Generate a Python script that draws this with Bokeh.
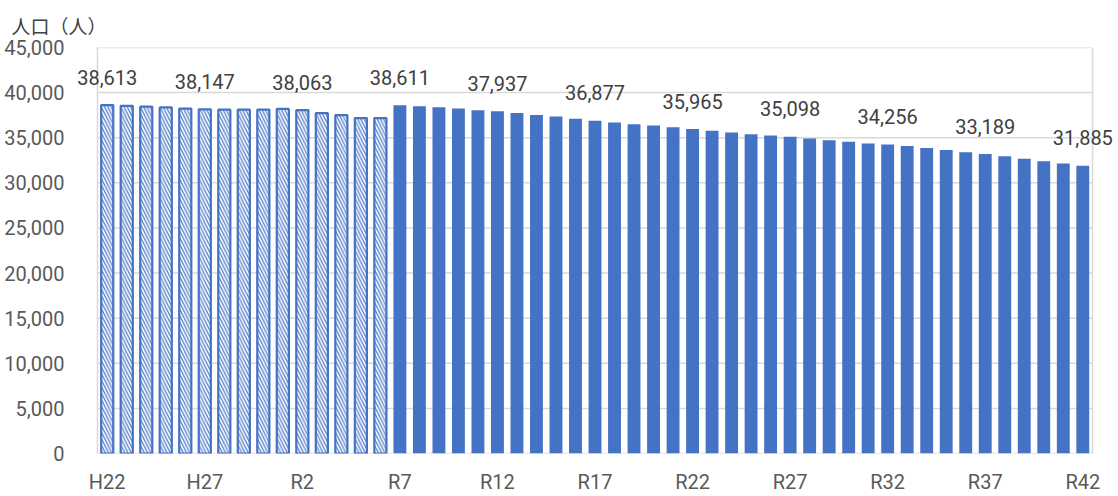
from bokeh.plotting import figure
from bokeh.models import (ColumnDataSource, FixedTicker, NumeralTickFormatter, Range1d)
from bokeh.core.properties import value
from bokeh.embed import file_html
from bokeh.resources import INLINE

# Population by year, H22 (2010) through R42 (2060)
years = ["H22", "H23", "H24", "H25", "H26", "H27", "H28", "H29", "H30", "R1",
         "R2", "R3", "R4", "R5", "R6",
         "R7", "R8", "R9", "R10", "R11", "R12", "R13", "R14", "R15", "R16",
         "R17", "R18", "R19", "R20", "R21", "R22", "R23", "R24", "R25", "R26",
         "R27", "R28", "R29", "R30", "R31", "R32", "R33", "R34", "R35", "R36",
         "R37", "R38", "R39", "R40", "R41", "R42"]

# Actual figures (hatched bars)
actual = [38613, 38530, 38445, 38360, 38230, 38147, 38105, 38105, 38105, 38190,
          38063, 37730, 37500, 37180, 37180]

# Projected figures (solid bars)
projected = [38611, 38500, 38388, 38238, 38052, 37937, 37750, 37530, 37340, 37110,
             36877, 36690, 36500, 36350, 36160, 35965, 35780, 35590, 35396, 35247,
             35098, 34912, 34725, 34540, 34350, 34256, 34070, 33850, 33630, 33400,
             33189, 32960, 32660, 32400, 32140, 31885]

tick_labels = ["H22", "H27", "R2", "R7", "R12", "R17", "R22", "R27", "R32", "R37", "R42"]
y_ticks = [0, 5000, 10000, 15000, 20000, 25000, 30000, 35000, 40000, 45000]

values = actual + projected
n = len(values)
idx = list(range(n))
n_act = len(actual)
x_lo, x_hi = -0.5, n - 0.5
y_top = y_ticks[-1]

src_act = ColumnDataSource(dict(x=idx[:n_act], top=actual))
src_proj = ColumnDataSource(dict(x=idx[n_act:], top=projected))

lab_idx = list(range(0, n, 5))
src_lab = ColumnDataSource(dict(
    x=lab_idx,
    y=[values[i] for i in lab_idx],
    t=[f"{values[i]:,}" for i in lab_idx],
))

BLUE = "#4472C4"
GRID = "#d9d9d9"
NUM_FONT = "Roboto"
JP_FONT = "Noto Sans CJK JP"

# the frame is a little wider than the category band so that value labels
# at the ends are not cut off; the plot-area border is drawn explicitly
p = figure(width=1118, height=496, output_backend="svg", toolbar_location=None,
           x_range=Range1d(x_lo - 1.28, x_hi + 1.33), y_range=Range1d(0, y_top),
           min_border_left=72, min_border_right=0, min_border_top=45,
           min_border_bottom=43)
p.background_fill_color = "white"
p.border_fill_color = "white"
p.outline_line_color = None

p.title.text = "人口（人）"
p.title.text_font = JP_FONT
p.title.text_font_size = "19px"
p.title.text_font_style = "normal"
p.title.text_color = "#404040"
p.title.align = "left"
p.title.offset = -61
p.title.standoff = 18
p.title.text_line_height = 0.9

# gridlines and plot-area border
p.segment(x0=x_lo, x1=x_hi, y0=y_ticks, y1=y_ticks, line_color=GRID, line_width=1.5)
p.segment(x0=[x_lo, x_hi], x1=[x_lo, x_hi], y0=0, y1=y_top, line_color=GRID,
          line_width=1.5)

p.vbar(x="x", top="top", width=0.62, source=src_act, fill_color="white",
       line_color=BLUE, line_width=2.2, hatch_pattern="\\", hatch_color=BLUE,
       hatch_scale=6.5, hatch_weight=1.4, hatch_alpha=0.85)
p.vbar(x="x", top="top", width=0.66, source=src_proj, fill_color=BLUE,
       line_color=None)

p.text(x="x", y="y", text="t", source=src_lab, text_align="center",
       text_baseline="alphabetic", y_offset=-28,
       text_font=value(NUM_FONT), text_font_size="20px", text_color="#404040")

p.xaxis.ticker = FixedTicker(ticks=lab_idx)
p.xaxis.major_label_overrides = {i: t for i, t in zip(lab_idx, tick_labels)}
p.yaxis.ticker = FixedTicker(ticks=y_ticks)
p.yaxis.formatter = NumeralTickFormatter(format="0,0")

for ax in (p.xaxis[0], p.yaxis[0]):
    ax.axis_line_color = None
    ax.major_tick_line_color = None
    ax.minor_tick_line_color = None
    ax.major_label_text_font = NUM_FONT
    ax.major_label_text_font_size = "20px"
    ax.major_label_text_color = "#595959"
p.yaxis.major_label_standoff = 2
p.xaxis.major_label_standoff = 10

p.xgrid.grid_line_color = None
p.ygrid.grid_line_color = None

open("out.html", "w").write(file_html(p, INLINE))
